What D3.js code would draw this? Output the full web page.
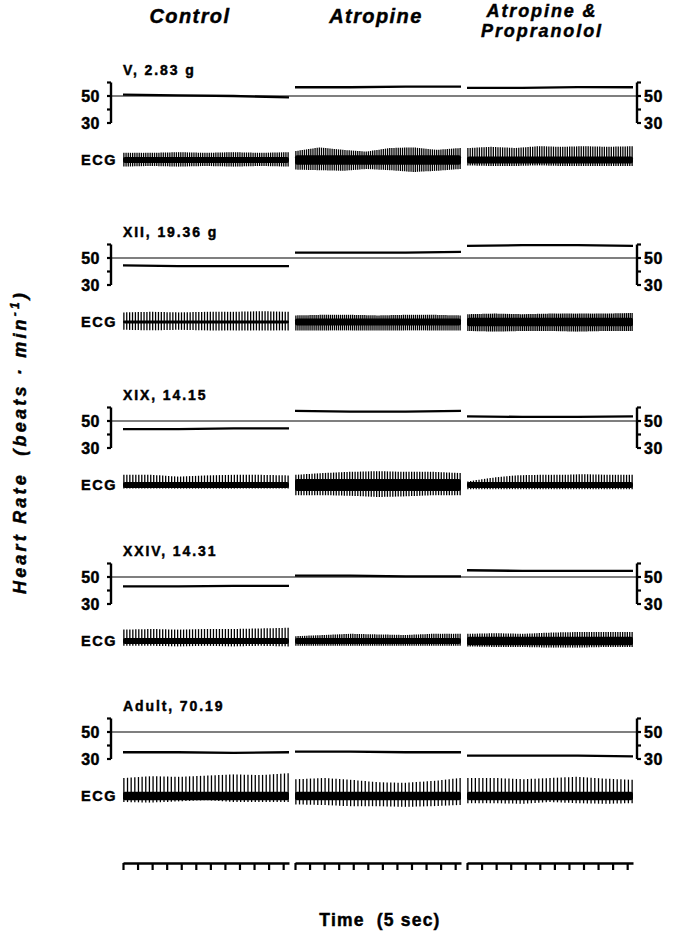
<!DOCTYPE html>
<html>
<head>
<meta charset="utf-8">
<script src="https://cdn.jsdelivr.net/npm/d3@7"></script>
<style>
  body { margin: 0; background: #fff; }
  svg { display: block; font-family: "Liberation Sans", Arial, sans-serif; font-weight: bold; }
  text { white-space: pre; fill: #000; stroke: #000; stroke-width: 0.45px; }
</style>
</head>
<body>
<div id="chart"></div>
<script>
const conditions = ["Control", "Atropine", "Atropine & Propranolol"]
const panels = ["V, 2.83 g", "XII, 19.36 g", "XIX, 14.15", "XXIV, 14.31", "Adult, 70.19"]
const bracketTicks = [30, 40, 50, 60]
const bracketLabels = [50, 30]
const timeTicks = [0, 5, 10, 15, 20, 25, 30, 35, 40, 45, 50, 55]
const sampleTimes = [0, 19, 38, 57]

// heart rate (beats/min) read at sampleTimes, one row per condition
const hrV = [[51, 50.5, 50, 49], [56.5, 56.5, 57, 57], [56, 56, 56.5, 56.5]]
const hrXII = [[44.5, 44, 44, 44], [54, 54, 54, 54.5], [59, 59.5, 59.5, 59]]
const hrXIX = [[44, 44, 44.5, 44.5], [57.5, 57, 57, 57.5], [53.5, 53, 53, 53.5]]
const hrXXIV = [[43, 43, 43.5, 43.5], [51, 51, 50.5, 50.5], [55, 54.5, 54.5, 54.5]]
const hrAdult = [[35, 35, 34.5, 35], [35.5, 35.5, 35, 35], [32.5, 32.5, 32.5, 32]]
const hrAll = [hrV, hrXII, hrXIX, hrXXIV, hrAdult]

// ECG: beats counted per trace
const beatsV = [76, 78, 72]
const beatsXII = [58, 82, 88]
const beatsXIX = [56, 62, 60]
const beatsXXIV = [56, 76, 70]
const beatsAdult = [46, 46, 45]
const beatsAll = [beatsV, beatsXII, beatsXIX, beatsXXIV, beatsAdult]

// ECG spike envelope above baseline (mV)
const upV = [[0.6, 0.6, 0.65, 0.6, 0.65, 0.6, 0.65], [0.75, 1.05, 0.85, 0.7, 1.0, 1.05, 0.85, 1.0], [1.0, 1.1, 1.0, 1.15, 1.1, 1.15, 1.1, 1.15]]
const upXII = [[0.8, 0.85, 0.8, 0.85, 0.85, 0.9, 0.85], [0.55, 0.6, 0.6, 0.55, 0.6, 0.6, 0.55], [0.65, 0.7, 0.65, 0.7, 0.7, 0.7, 0.75]]
const upXIX = [[0.85, 0.85, 0.7, 0.8, 0.85, 0.85, 0.8], [0.85, 1.0, 1.1, 1.15, 1.1, 1.1, 1.0], [0.3, 0.6, 0.8, 0.85, 0.85, 0.9, 0.85, 0.85]]
const upXXIV = [[0.95, 1.0, 0.95, 1.0, 1.0, 1.05, 1.1], [0.4, 0.5, 0.6, 0.55, 0.5, 0.6, 0.6], [0.6, 0.65, 0.6, 0.7, 0.75, 0.75, 0.75]]
const upAdult = [[1.5, 1.65, 1.6, 1.7, 1.8, 1.75, 1.9], [1.4, 1.5, 1.35, 1.15, 1.1, 1.25, 1.5], [1.5, 1.5, 1.4, 1.5, 1.6, 1.45, 1.35]]
const upAll = [upV, upXII, upXIX, upXXIV, upAdult]

// ECG envelope below baseline (mV)
const downV = [[0.55, 0.5, 0.55, 0.5, 0.55, 0.5, 0.55], [0.8, 0.85, 0.9, 0.75, 0.85, 1.0, 0.9, 0.75], [0.45, 0.5, 0.5, 0.45, 0.5, 0.5, 0.5, 0.5]]
const downXII = [[0.65, 0.7, 0.65, 0.7, 0.7, 0.7, 0.7], [0.7, 0.7, 0.7, 0.7, 0.7, 0.7, 0.7], [0.75, 0.8, 0.75, 0.75, 0.8, 0.75, 0.75]]
const downXIX = [[0.3, 0.3, 0.3, 0.3, 0.3, 0.3, 0.3], [0.85, 0.85, 0.9, 1.0, 0.95, 0.85, 0.85], [0.35, 0.35, 0.35, 0.35, 0.35, 0.35, 0.35, 0.35]]
const downXXIV = [[0.4, 0.4, 0.45, 0.4, 0.45, 0.4, 0.45], [0.4, 0.4, 0.4, 0.4, 0.4, 0.4, 0.4], [0.45, 0.5, 0.5, 0.55, 0.55, 0.5, 0.5]]
const downAdult = [[0.5, 0.55, 0.45, 0.35, 0.5, 0.5, 0.5], [0.7, 0.75, 0.85, 0.85, 0.9, 0.85, 0.75], [0.6, 0.6, 0.65, 0.5, 0.6, 0.65, 0.6]]
const downAll = [downV, downXII, downXIX, downXXIV, downAdult]

// ECG baseline band half-thickness (mV)
const bandV = [0.25, 0.4, 0.3]
const bandXII = [0.12, 0.3, 0.35]
const bandXIX = [0.25, 0.5, 0.25]
const bandXXIV = [0.25, 0.25, 0.35]
const bandAdult = [0.35, 0.35, 0.35]
const bandAll = [bandV, bandXII, bandXIX, bandXXIV, bandAdult]

const width = 693
const height = 936

const svg = d3.select("#chart")
    .append("svg")
    .attr("width", width)
    .attr("height", height)

/* SCALES */
const xBand = d3.scaleBand()
    .domain(conditions)
    .range([123, 633])
    .paddingInner(0.035)

// y of each panel's 50 line
const panelY = d3.scaleOrdinal()
    .domain(panels)
    .range([96, 258, 421, 577, 732])

// heart rate relative to the 50 line of each panel
const hrY = d3.scaleLinear()
    .domain([30, 60])
    .range([27, -13.5])

const ecgAmp = d3.scaleLinear()
    .domain([0, 1])
    .range([0, 12])

const timeX = c => d3.scaleLinear()
    .domain([0, 57])
    .range([xBand(c), xBand(c) + xBand.bandwidth()])

const ecgOffset = 64
const leftBracketX = 111
const rightBracketX = 637

/* COLUMN TITLES */
const titleLines = [["Control"], ["Atropine"], ["Atropine &", "Propranolol"]]
const titleShift = [-16, -2, -8]
conditions.forEach((c, i) => {
    const cx = xBand(c) + xBand.bandwidth() / 2 + titleShift[i]
    const lines = titleLines[i]
    lines.forEach((t, j) => {
        svg.append("text")
            .attr("x", cx)
            .attr("y", lines.length == 1 ? 23 : 17 + j * 20)
            .attr("text-anchor", "middle")
            .style("font-size", lines.length == 1 ? "20px" : "18px")
            .style("font-style", "italic")
            .style("letter-spacing", lines.length == 1 ? "1.4px" : "1.9px")
            .text(t)
    })
})

/* PANELS */
panels.forEach((p, pi) => {
    const g = svg.append("g")
        .attr("transform", `translate(0, ${panelY(p)})`)

    g.append("text")
        .attr("x", 123)
        .attr("y", -21)
        .style("font-size", "14px")
        .style("letter-spacing", "1.9px")
        .text(p)

    // 50 reference line
    g.append("line")
        .attr("x1", leftBracketX - 4)
        .attr("x2", rightBracketX + 4)
        .attr("y1", hrY(50))
        .attr("y2", hrY(50))
        .attr("stroke", "#000")
        .attr("stroke-width", 1.1)

    // brackets
    const brackets = [{ x: leftBracketX, dir: -1, anchor: "end", gap: 11 }, { x: rightBracketX, dir: 1, anchor: "start", gap: 7 }]
    brackets.forEach(b => {
        g.append("line")
            .attr("x1", b.x).attr("x2", b.x)
            .attr("y1", hrY(60)).attr("y2", hrY(30))
            .attr("stroke", "#000")
            .attr("stroke-width", 2.4)
        g.selectAll(null)
            .data(bracketTicks)
            .join("line")
            .attr("x1", b.x)
            .attr("x2", b.x + b.dir * 4)
            .attr("y1", d => hrY(d))
            .attr("y2", d => hrY(d))
            .attr("stroke", "#000")
            .attr("stroke-width", 2.2)
        g.selectAll(null)
            .data(bracketLabels)
            .join("text")
            .attr("x", b.x + b.dir * b.gap)
            .attr("y", d => hrY(d))
            .attr("dy", "0.36em")
            .attr("text-anchor", b.anchor)
            .style("font-size", "16px")
            .style("letter-spacing", "0.5px")
            .text(d => d)
    })

    // heart rate traces
    conditions.forEach((c, ci) => {
        const tx = timeX(c)
        const line = d3.line()
            .x((d, i) => tx(sampleTimes[i]))
            .y(d => hrY(d))
        g.append("path")
            .attr("d", line(hrAll[pi][ci]))
            .attr("fill", "none")
            .attr("stroke", "#000")
            .attr("stroke-width", 2.3)
    })

    // ECG
    const eg = g.append("g").attr("transform", `translate(0, ${ecgOffset})`)
    eg.append("text")
        .attr("x", 117)
        .attr("y", 0)
        .attr("dy", "0.36em")
        .attr("text-anchor", "end")
        .style("font-size", "14.5px")
        .style("letter-spacing", "1.5px")
        .text("ECG")

    conditions.forEach((c, ci) => {
        const tx = timeX(c)
        const nBeats = beatsAll[pi][ci]
        const up = upAll[pi][ci]
        const down = downAll[pi][ci]
        const beatX = d3.scaleLinear().domain([0, nBeats - 1]).range([tx(0.3), tx(56.7)])
        const upS = d3.scaleLinear().domain(d3.range(up.length).map(k => k * (nBeats - 1) / (up.length - 1))).range(up)
        const downS = d3.scaleLinear().domain(d3.range(down.length).map(k => k * (nBeats - 1) / (down.length - 1))).range(down)
        const band = bandAll[pi][ci]

        eg.append("rect")
            .attr("x", tx(0))
            .attr("width", tx(57) - tx(0))
            .attr("y", -ecgAmp(band))
            .attr("height", ecgAmp(band) * 2)
            .attr("rx", 2)
            .attr("fill", "#000")

        eg.selectAll(null)
            .data(d3.range(nBeats))
            .join("line")
            .attr("x1", i => beatX(i))
            .attr("x2", i => beatX(i))
            .attr("y1", i => -ecgAmp(upS(i)))
            .attr("y2", i => ecgAmp(downS(i)))
            .attr("stroke", "#000")
            .attr("stroke-width", 1.3)
    })
})

/* TIME MARKER */
conditions.forEach(c => {
    const axis = d3.axisBottom(timeX(c))
        .tickValues(timeTicks)
        .tickSize(7)
        .tickSizeOuter(0)
        .tickFormat("")
    const ag = svg.append("g")
        .attr("transform", `translate(0, 863)`)
        .call(axis)
    ag.select(".domain").attr("stroke-width", 2.6)
    ag.selectAll(".tick line").attr("stroke-width", 2.2)
})

svg.append("text")
    .attr("x", 380)
    .attr("y", 926)
    .attr("text-anchor", "middle")
    .style("font-size", "17.5px")
    .style("letter-spacing", "1.2px")
    .text("Time  (5 sec)")

/* Y TITLE */
const yTitle = svg.append("text")
    .attr("transform", "translate(26, 442) rotate(-90)")
    .attr("text-anchor", "middle")
    .style("font-size", "18px")
    .style("font-style", "italic")
    .style("letter-spacing", "3.2px")
yTitle.append("tspan").text("Heart Rate  (beats · min")
yTitle.append("tspan").attr("dy", -7).style("font-size", "12px").text("-1")
yTitle.append("tspan").attr("dy", 7).text(")")
</script>
</body>
</html>
